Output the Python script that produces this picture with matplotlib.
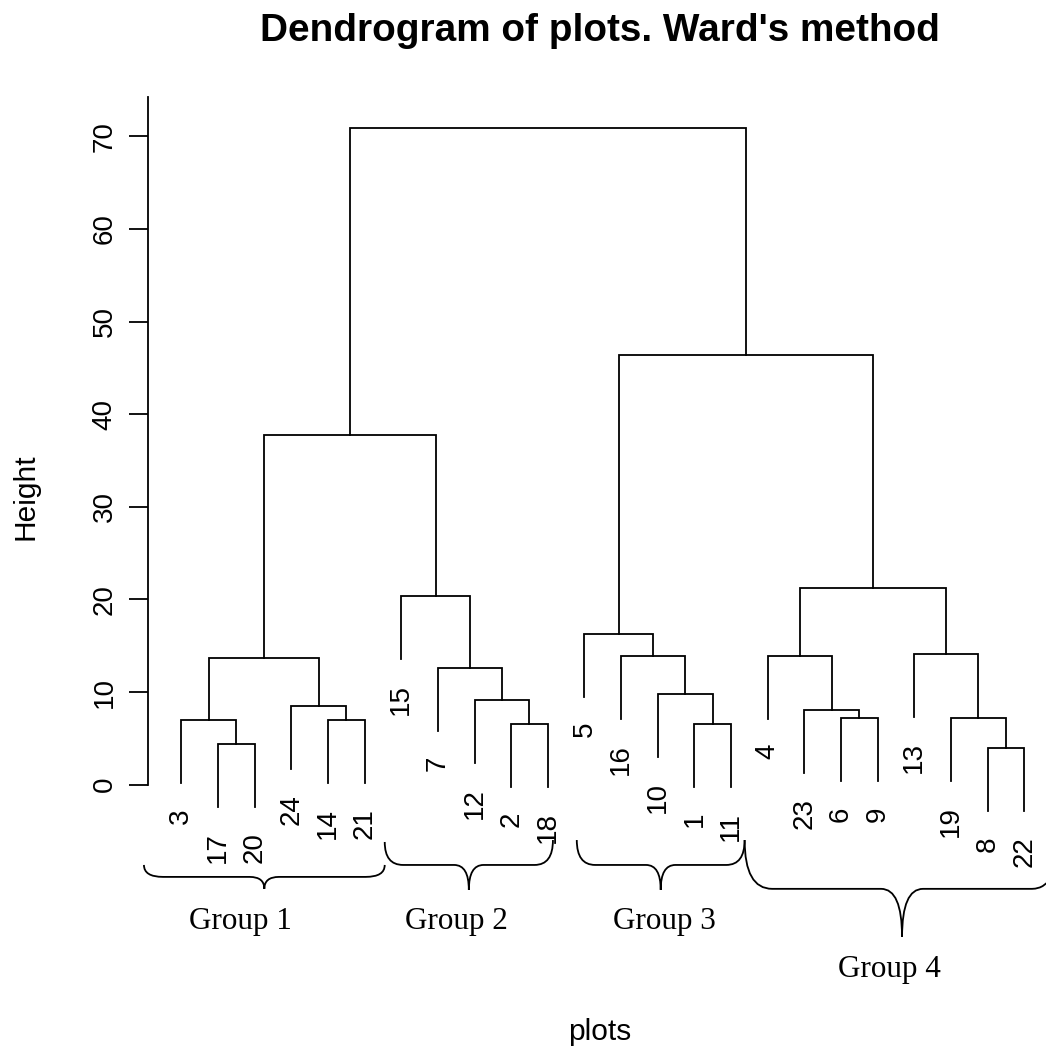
import matplotlib.pyplot as plt
from matplotlib.path import Path
from matplotlib.patches import PathPatch

# leaf order as drawn (plot numbers)
order = [3, 17, 20, 24, 14, 21, 15, 7, 12, 2, 18, 5, 16, 10, 1, 11, 4, 23, 6, 9, 13, 19, 8, 22]

# hclust style merge table: negative = single plot, positive = earlier merge (1-based)
merge = [(-8, -22), (-17, -20), (-2, -18), (-1, -11), (-14, -21), (-3, 2),
         (-6, -9), (-19, 1), (-23, 7), (-24, 5), (-12, 3), (-10, 4),
         (-7, 11), (6, 10), (-16, 12), (-4, 9), (-13, 8), (-5, 15),
         (-15, 13), (16, 17), (14, 19), (18, 20), (21, 22)]
heights = [3.93, 4.4, 6.55, 6.55, 6.95, 6.95, 7.17, 7.17, 8.03, 8.5, 9.1, 9.8,
           12.63, 13.7, 13.9, 13.9, 14.08, 16.27, 20.37, 21.2, 37.8, 46.4, 70.9]
hang = 6.8

# groups marked under the tree (first and last leaf position)
group_names = ["Group 1", "Group 2", "Group 3", "Group 4"]
group_leaves = [(1, 6), (7, 11), (12, 16), (17, 24)]

yticks = [0, 10, 20, 30, 40, 50, 60, 70]

plt.rcParams['font.family'] = 'Liberation Sans'
fig = plt.figure(figsize=(10.46, 10.46), dpi=100)
ax = fig.add_axes([147.6 / 1046, 0.1985, (1058 - 147.6) / 1046, 0.7084])
ax.set_xlim(0.08, 24.92)
ax.set_ylim(-5.8, 74.2)

lw = 1.3
node_x = {}
for i, (a, b) in enumerate(merge):
    h = heights[i]
    pts = []
    for c in (a, b):
        if c < 0:
            x = order.index(-c) + 1
            y = h - hang
            ax.annotate(str(-c), (x, y), xytext=(0, -18), textcoords='offset points',
                        rotation=90, ha='center', va='top', fontsize=20,
                        annotation_clip=False)
        else:
            x = node_x[c]
            y = heights[c - 1]
        pts.append((x, y))
    (x1, y1), (x2, y2) = pts
    ax.plot([x1, x1, x2, x2], [y1, h, h, y2], color='black', lw=lw,
            solid_joinstyle='miter', clip_on=False)
    node_x[i + 1] = (x1 + x2) / 2

# axis styling like R
for s in ['top', 'right', 'bottom']:
    ax.spines[s].set_visible(False)
ax.spines['left'].set_bounds(0, 74.2)
ax.spines['left'].set_linewidth(lw)
ax.set_xticks([])
ax.set_yticks(yticks)
ax.tick_params(axis='y', length=13.7, width=lw, pad=8, labelsize=20)
for t in ax.get_yticklabels():
    t.set_rotation(90)
    t.set_va('center')

# curly braces for the groups
MOVE, C3, LINE = Path.MOVETO, Path.CURVE3, Path.LINETO


def brace(x0, x1, y_left, y_right, y_flat, y_tip, r_end, r_tip):
    xm = (x0 + x1) / 2
    verts = [(x0, y_left), (x0, y_flat), (x0 + r_end, y_flat),
             (xm - r_tip, y_flat), (xm, y_flat), (xm, y_tip),
             (xm, y_flat), (xm + r_tip, y_flat),
             (x1 - r_end, y_flat), (x1, y_flat), (x1, y_right)]
    codes = [MOVE, C3, C3, LINE, C3, C3, C3, C3, LINE, C3, C3]
    ax.add_patch(PathPatch(Path(verts, codes), fill=False, lw=lw,
                           color='black', clip_on=False))


brace_pad = [(1.02, 0.55), (0.45, 0.14), (0.21, 0.37), (0.63, 0.96)]
brace_y = [(-8.67, -8.67, -9.96, -11.25), (-6.19, -5.98, -8.67, -11.36),
           (-5.98, -5.98, -8.67, -11.36), (-5.98, -5.0, -11.25, -16.44)]
brace_r = [(0.52, 0.4), (0.5, 0.4), (0.5, 0.4), (0.75, 0.57)]
label_pos = [(2.61, -15.58), (8.52, -15.58), (14.19, -15.58), (20.33, -20.76)]

for k, name in enumerate(group_names):
    lo, hi = group_leaves[k]
    pl, pr = brace_pad[k]
    yl, yr, yf, yt = brace_y[k]
    re, rt = brace_r[k]
    brace(lo - pl, hi + pr, yl, yr, yf, yt, re, rt)
    ax.text(label_pos[k][0], label_pos[k][1], name, family='Liberation Serif',
            fontsize=22.4, ha='center', va='baseline', clip_on=False)

fig.text(600 / 1046, 1 - 41 / 1046, "Dendrogram of plots. Ward's method",
         ha='center', va='baseline', fontsize=27.9, fontweight='bold')
fig.text(25 / 1046, 1 - 497 / 1046, "Height", rotation=90,
         ha='center', va='center', fontsize=21.5)
fig.text(600 / 1046, 1 - 1040 / 1046, "plots", ha='center', va='baseline',
         fontsize=21.5)

fig.savefig('out.png', dpi=100)
